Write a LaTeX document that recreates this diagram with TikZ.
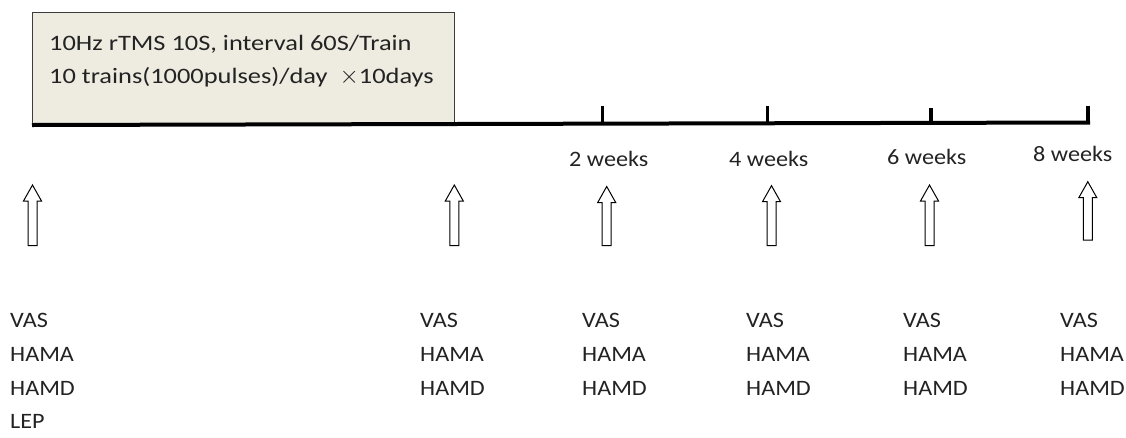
\documentclass[tikz,border=0pt]{standalone}
\usepackage{fontspec}
\setmainfont{Carlito}
\definecolor{boxfill}{RGB}{238,235,224}
\definecolor{boxline}{RGB}{60,60,60}
\definecolor{txt}{RGB}{35,35,35}
\begin{document}
\begin{tikzpicture}[x=1pt,y=-1pt,
  lbl/.style={anchor=base west,inner sep=0pt,font=\fontsize{22}{22}\selectfont\addfontfeature{FakeStretch=1.1},text=txt},
  boxtxt/.style={anchor=base west,inner sep=0pt,font=\fontsize{22}{22}\selectfont\addfontfeature{FakeStretch=1.2},text=txt},
  axis/.style={line width=4pt,black},
  tick/.style={line width=3.5pt,black},
  hollow/.style={draw=black,line width=1pt,fill=white,line join=miter}]
\useasboundingbox (0,0) rectangle (1126,437);
% box
\node[draw=boxline,fill=boxfill,line width=1pt,minimum width=422pt,minimum height=113pt,anchor=north west,inner sep=0pt] (box) at (32,12) {};
\node[boxtxt] (t1) at (49,50) {10Hz rTMS 10S, interval 60S/Train};
\node[boxtxt] (t2) at (49,83) {10 trains(1000pulses)/day\ \ {\fontsize{28}{28}\selectfont$\times$}10days};
% axis
\coordinate (a0) at (32,125);
\coordinate (a1) at (1090,122.5);
\draw[axis] (a0) -- (a1);
\foreach \x/\top/\y/\n in {602.7/106/123.8/w2,767.7/106/123.3/w4,931/108/122.9/w6,1088/106/122.5/w8}{
  \coordinate (\n top) at (\x,\top);
  \coordinate (\n bot) at (\x,\y);
  \draw[tick] (\n top) -- (\n bot);
}
\node[lbl] (l2) at (569,166.7) {2 weeks};
\node[lbl] (l4) at (729,166.7) {4 weeks};
\node[lbl] (l6) at (887,164) {6 weeks};
\node[lbl] (l8) at (1033,161.7) {8 weeks};
% hollow arrows
\foreach \x/\t/\b in {32.5/185/245.5, 454.3/185/245.5, 606.7/186.5/245.7, 771.5/185.7/245.7, 929.5/185/245.7, 1087.8/181.7/240}{
  \draw[hollow] (\x-4.5,\b) -- (\x-4.5,\t+16) -- (\x-9,\t+16) -- (\x,\t) -- (\x+9,\t+16) -- (\x+4.5,\t+16) -- (\x+4.5,\b) -- cycle;
}
% measures
\foreach \x/\n in {10/c1,420/c2,582/c3,746/c4,903/c5,1060/c6}{
  \node[lbl] (\n vas) at (\x,327) {VAS};
  \node[lbl] (\n hama) at (\x,361) {HAMA};
  \node[lbl] (\n hamd) at (\x,395) {HAMD};
}
\node[lbl] (lep) at (10,428) {LEP};
\end{tikzpicture}
\end{document}
